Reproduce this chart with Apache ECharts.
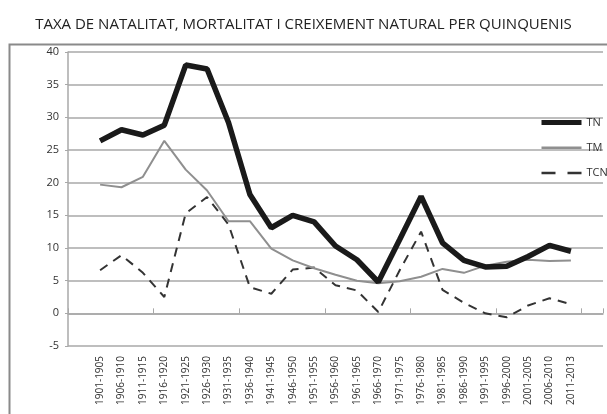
<!DOCTYPE html>
<html>
<head>
<meta charset="utf-8">
<script src="https://cdn.jsdelivr.net/npm/echarts@6/dist/echarts.min.js"></script>
<style>
  html, body { margin: 0; padding: 0; background: #fff; }
  #chart { width: 607px; height: 414px; }
</style>
</head>
<body>
<div id="chart"></div>
<script>
// periodes (quinquennis)
var periodes = ['1901-1905', '1906-1910', '1911-1915', '1916-1920', '1921-1925', '1926-1930',
  '1931-1935', '1936-1940', '1941-1945', '1946-1950', '1951-1955', '1956-1960', '1961-1965',
  '1966-1970', '1971-1975', '1976-1980', '1981-1985', '1986-1990', '1991-1995', '1996-2000',
  '2001-2005', '2006-2010', '2011-2013'];

// taxa de natalitat
var tn = [26.4, 28.1, 27.3, 28.8, 38.0, 37.4, 29.2, 18.2, 13.1, 15.0, 14.0, 10.3, 8.2,
  4.8, 11.3, 17.9, 10.8, 8.1, 7.1, 7.2, 8.7, 10.4, 9.5];
// taxa de mortalitat
var tm = [19.7, 19.3, 20.9, 26.4, 22.0, 18.8, 14.1, 14.1, 9.9, 8.1, 6.9, 5.9, 5.0,
  4.6, 4.9, 5.6, 6.8, 6.2, 7.3, 7.9, 8.2, 8.0, 8.1];
// taxa de creixement natural
var tcn = [6.6, 8.9, 6.2, 2.5, 15.3, 17.8, 13.6, 4.0, 3.0, 6.7, 7.0, 4.3, 3.5,
  0.2, 6.6, 12.5, 3.6, 1.6, 0.0, -0.6, 1.2, 2.3, 1.4];

var yTicks = { min: -5, max: 40, interval: 5 };

// l'eix té una banda buida a cada extrem
var cats = [''].concat(periodes, ['']);
function pad(arr) { return [null].concat(arr, [null]); }

var myChart = echarts.init(document.getElementById('chart'));

var option = {
  backgroundColor: '#fff',
  animation: false,
  textStyle: { fontFamily: 'Open Sans' },
  title: {
    text: 'TAXA DE NATALITAT, MORTALITAT I CREIXEMENT NATURAL PER QUINQUENIS',
    left: 'center',
    top: 12,
    textStyle: { fontSize: 15, fontWeight: 'normal', color: '#222', fontFamily: 'Open Sans' }
  },
  graphic: [{
    type: 'rect',
    shape: { x: 9.5, y: 44.5, width: 620, height: 400 },
    style: { fill: 'none', stroke: '#8a8a8a', lineWidth: 2 },
    silent: true
  }],
  legend: {
    orient: 'vertical',
    left: 534,
    top: 112,
    itemWidth: 40,
    itemHeight: 14,
    itemGap: 14,
    itemStyle: { opacity: 0 },
    textStyle: { fontSize: 11, color: '#333', padding: [0, 0, 0, 0] },
    data: [
      { name: 'TN', lineStyle: { width: 5 } },
      { name: 'TM', lineStyle: { width: 2.5 } },
      { name: 'TCN', lineStyle: { width: 2.5, type: [14, 12] } }
    ]
  },
  grid: { left: 68, right: 4, top: 52, bottom: 68 },
  xAxis: [{
    type: 'category',
    data: cats,
    boundaryGap: true,
    position: 'bottom',
    axisLine: { show: false, onZero: false },
    axisTick: { show: false },
    axisLabel: { rotate: 90, fontSize: 10, color: '#333', margin: 10, interval: 0 }
  }, {
    type: 'category',
    data: cats,
    boundaryGap: true,
    axisLine: { show: true, onZero: true, lineStyle: { color: '#a8a8a8', width: 1.5 } },
    axisTick: { show: true, length: 5, lineStyle: { color: '#a8a8a8' } },
    axisLabel: { show: false }
  }],
  yAxis: {
    type: 'value',
    min: yTicks.min,
    max: yTicks.max,
    interval: yTicks.interval,
    axisLine: { show: true, lineStyle: { color: '#a8a8a8', width: 1.5 } },
    axisTick: { show: true, length: 3, lineStyle: { color: '#a8a8a8' } },
    axisLabel: { fontSize: 11, color: '#333', margin: 9 },
    splitLine: { lineStyle: { color: '#a8a8a8', width: 1.5 } }
  },
  series: [{
    name: 'TN',
    type: 'line',
    data: pad(tn),
    symbol: 'none',
    lineStyle: { color: '#1a1a1a', width: 5.5 },
    itemStyle: { color: '#1a1a1a' },
    z: 4
  }, {
    name: 'TM',
    type: 'line',
    data: pad(tm),
    symbol: 'none',
    lineStyle: { color: '#8f8f8f', width: 2 },
    itemStyle: { color: '#8f8f8f' },
    z: 3
  }, {
    name: 'TCN',
    type: 'line',
    data: pad(tcn),
    symbol: 'none',
    lineStyle: { color: '#333', width: 2, type: [9, 7] },
    itemStyle: { color: '#333' },
    z: 2
  }]
};

myChart.setOption(option);
</script>
</body>
</html>
